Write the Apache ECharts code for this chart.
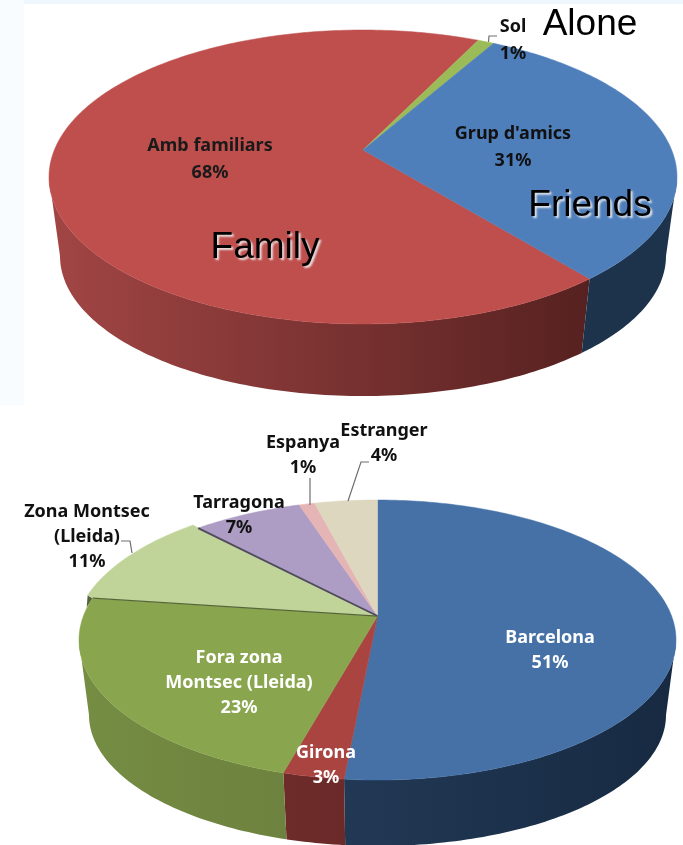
<!DOCTYPE html>
<html>
<head>
<meta charset="utf-8">
<style>
html, body { margin: 0; padding: 0; background: #fff; }
#main { width: 683px; height: 845px; }
</style>
<script src="https://cdn.jsdelivr.net/npm/echarts@6/dist/echarts.min.js"></script>
</head>
<body>
<div id="main"></div>
<script>
// top pie: who they travel with
var companyNames = ['Amb familiars', 'Sol', "Grup d'amics"];
var companyValues = [68, 1, 31];

// bottom pie: where they come from, labels show them rounded
var originNames = ['Barcelona', 'Girona', 'Fora zona\nMontsec (Lleida)', 'Zona Montsec\n(Lleida)', 'Tarragona', 'Espanya', 'Estranger'];
var originValues = [51.4, 2.8, 22.8, 10.8, 7, 1, 4];

// look of each pie, the rim is a tilted ellipse and shift moves the apex towards the back
var topPie = {
    startAngle: 141,
    face: { cx: 363, cy: 177, rx: 314, ry: 147 },
    base: { cx: 363, cy: 256, rx: 303, ry: 140 },
    shift: 0.184,
    colors: ['#be4f4d', '#9bbb59', '#4f7fbb'],
    walls: [['#a04544', '#4b1c1b'], ['#6c8040', '#5a6c30'], ['#203750', '#1d324b']],
    labelColors: ['#1a1a1a', '#111', '#111'],
    labelPos: [[210, 144], [513, 25], [513, 132]],
    lineHeight: 27,
    pulled: {}
};
var bottomPie = {
    startAngle: 0,
    face: { cx: 377.5, cy: 640, rx: 298.5, ry: 140 },
    base: { cx: 377.5, cy: 715, rx: 288.5, ry: 131 },
    shift: 0.171,
    colors: ['#4571a7', '#a94441', '#89a54e', '#c0d49a', '#ad9cc4', '#e5b5b5', '#dcd7be'],
    walls: [['#2a4464', '#172a42'], ['#702c2b', '#662827'], ['#758c43', '#5c6f35'], ['#5d6b45', '#5d6b45'], ['#6a5c80', '#6a5c80'], ['#8a6a6a', '#8a6a6a'], ['#85826e', '#85826e']],
    labelColors: ['#fff', '#fff', '#fff', '#111', '#111', '#111', '#111'],
    labelPos: [[550, 636], [326, 751], [239, 656], [87, 510], [239, 501], [303, 441], [384, 429]],
    lineHeight: 25,
    pulled: { 3: [-5, -3] } // the Zona Montsec slice sits a little out of the pie
};

var labelFont = 'bold 18px "Noto Sans"';
var bigFont = '37px "Liberation Sans"';

// disc angle (clockwise from the back) to a point on the ellipse
function rimPoint(ring, shift, deg) {
    var a = deg * Math.PI / 180;
    var x = Math.sin(a), y = Math.cos(a);
    var w = 1 + shift * y;
    var s = x * Math.sqrt(1 - shift * shift) / w;
    var t = (y + shift) / w;
    return [ring.cx + ring.rx * s, ring.cy - ring.ry * t];
}

function arc(ring, shift, from, to) {
    var pts = [];
    for (var d = from; d < to; d += 1) {
        pts.push(rimPoint(ring, shift, d));
    }
    pts.push(rimPoint(ring, shift, to));
    return pts;
}

function pieSeries(names, values, look) {
    var total = values.reduce(function (a, b) { return a + b; }, 0);
    var xMin = look.base.cx - look.base.rx;
    var xMax = look.base.cx + look.base.rx;
    var apex = [look.face.cx, look.face.cy - look.face.ry * look.shift];
    // only the front of the rim shows a wall
    var frontFrom = Math.acos(-look.shift) * 180 / Math.PI;
    var frontTo = 360 - frontFrom;
    var starts = [];
    var acc = look.startAngle;
    values.forEach(function (v) {
        starts.push(acc % 360);
        acc += v / total * 360;
    });
    return {
        type: 'custom',
        coordinateSystem: 'none',
        silent: true,
        animation: false,
        data: values.map(function (v, i) { return { name: names[i], value: [v] }; }),
        renderItem: function (params, api) {
            var i = params.dataIndex;
            var v = api.value(0);
            var from = starts[i];
            var to = from + v / total * 360;
            var top = arc(look.face, look.shift, from, to);
            var children = [];
            var wallFrom = Math.max(from, frontFrom);
            var wallTo = Math.min(to, frontTo);
            if (wallFrom < wallTo) {
                children.push({
                    type: 'polygon',
                    z2: 1,
                    shape: {
                        points: arc(look.face, look.shift, wallFrom, wallTo)
                            .concat(arc(look.base, look.shift, wallFrom, wallTo).reverse())
                    },
                    style: {
                        fill: new echarts.graphic.LinearGradient(xMin, 0, xMax, 0, [
                            { offset: 0, color: look.walls[i][0] },
                            { offset: 1, color: look.walls[i][1] }
                        ], true)
                    }
                });
            }
            var out = look.pulled[i];
            var outline = [apex].concat(top);
            if (out) {
                var a = top[0];
                var b = top[top.length - 1];
                var moved = top.map(function (p) { return [p[0] + out[0], p[1] + out[1]]; });
                outline = [apex, a].concat(moved, [b]);
                children.push({
                    type: 'polygon', z2: 2,
                    shape: { points: [[a[0] + out[0], a[1] + out[1]], a, [a[0] + out[0] - 1, a[1] + 9]] },
                    style: { fill: '#55613f' }
                });
                children.push({
                    type: 'polyline', z2: 4,
                    shape: { points: [apex, a] },
                    style: { stroke: '#56663a', lineWidth: 1.3, fill: 'none' }
                });
                children.push({
                    type: 'polyline', z2: 4,
                    shape: { points: [apex, b] },
                    style: { stroke: '#4f4a5e', lineWidth: 1.8, fill: 'none' }
                });
            }
            children.push({
                type: 'polygon',
                z2: 3,
                shape: { points: outline },
                style: { fill: look.colors[i], stroke: look.colors[i], lineWidth: 0.5 }
            });
            children.push({
                type: 'text',
                z2: 6,
                style: {
                    text: names[i] + '\n' + Math.round(v) + '%',
                    x: look.labelPos[i][0],
                    y: look.labelPos[i][1] - look.lineHeight / 2 + 2,
                    font: labelFont,
                    lineHeight: look.lineHeight,
                    align: 'center',
                    verticalAlign: 'top',
                    fill: look.labelColors[i]
                }
            });
            return { type: 'group', children: children };
        }
    };
}

function leader(points) {
    return {
        type: 'polyline',
        z: 8,
        shape: { points: points },
        style: { stroke: '#6e6e6e', lineWidth: 1.2, fill: 'none' }
    };
}

function bigText(text, x, y, glow) {
    var style = {
        text: text, x: x, y: y, font: bigFont, fill: '#000',
        align: 'center', verticalAlign: 'middle'
    };
    if (glow) {
        style.textShadowColor = 'rgba(240,240,240,0.9)';
        style.textShadowBlur = 2;
        style.textShadowOffsetX = 2;
        style.textShadowOffsetY = 2;
    }
    return { type: 'text', z: 9, style: style };
}

var myChart = echarts.init(document.getElementById('main'), null, { renderer: 'canvas' });

var option = {
    backgroundColor: '#ffffff',
    animation: false,
    graphic: [
        // pale slide strip behind the first picture
        { type: 'rect', z: -1, shape: { x: 0, y: 0, width: 683, height: 4 }, style: { fill: '#eef7fd' } },
        { type: 'rect', z: -1, shape: { x: 0, y: 0, width: 24, height: 405 }, style: { fill: '#f8fcfe' } },
        leader([[488.5, 42], [489, 36], [497, 36]]),
        leader([[369, 462], [361, 462], [348, 501]]),
        leader([[310, 478], [310, 505]]),
        leader([[121, 541], [130, 541], [132, 553]]),
        bigText('Alone', 590, 25, false),
        bigText('Friends', 590, 206, true),
        bigText('Family', 265, 248, true)
    ],
    series: [
        pieSeries(companyNames, companyValues, topPie),
        pieSeries(originNames, originValues, bottomPie)
    ]
};

myChart.setOption(option);
window.addEventListener('resize', myChart.resize);
</script>
</body>
</html>
